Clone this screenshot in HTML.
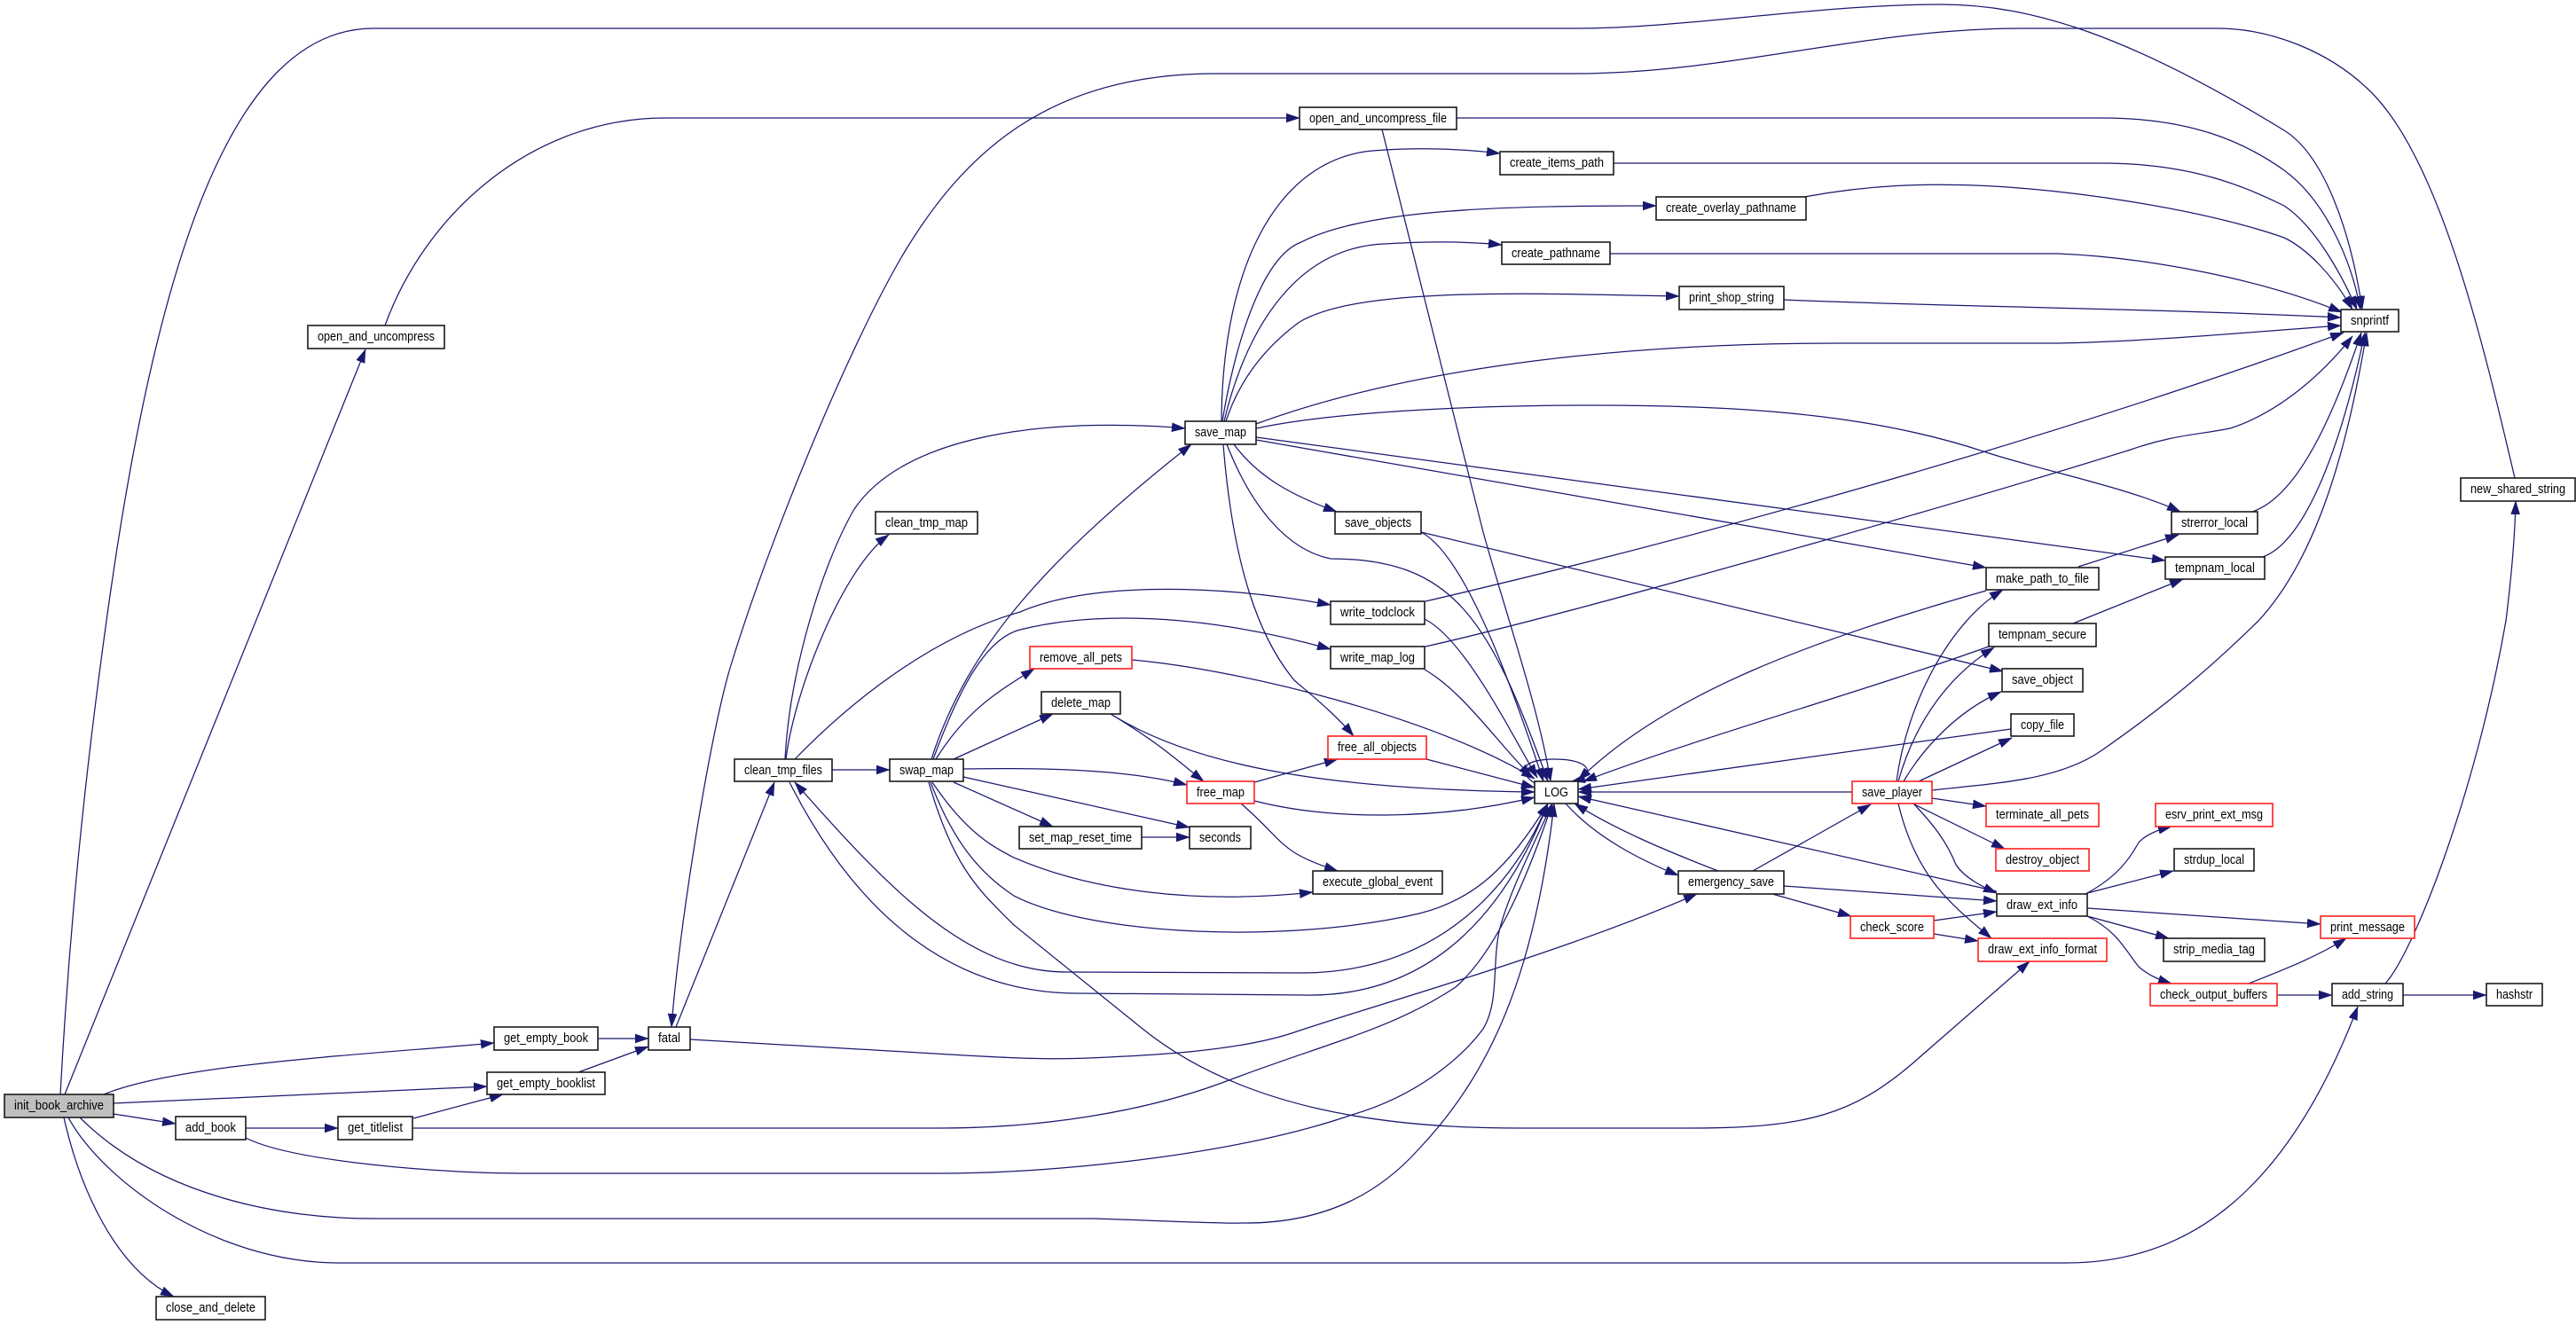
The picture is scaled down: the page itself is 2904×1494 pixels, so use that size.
<!DOCTYPE html>
<html><head><meta charset="utf-8"><title>init_book_archive call graph</title>
<style>
html,body{margin:0;padding:0;background:#fff;width:2904px;height:1494px;overflow:hidden}
svg{display:block}
path{fill:none;stroke:#191970;stroke-width:1.25;marker-end:url(#a)}
path.n{marker-end:none}
marker path{fill:#191970;stroke:#191970;stroke-width:.5;marker-end:none}
rect{fill:#fff;stroke:#1a1a1a;stroke-width:1.6}
rect.r{stroke:#ff2020}
rect.g{fill:#bfbfbf}
text{font-family:"Liberation Sans",sans-serif;font-size:15px;fill:#000}
</style></head><body>
<svg xmlns="http://www.w3.org/2000/svg" width="2904" height="1494" viewBox="0 0 2904 1494">
<defs><marker id="a" markerUnits="userSpaceOnUse" markerWidth="16" markerHeight="14" refX="15" refY="6" orient="auto"><path d="M0 1L15 6L0 11Z"/></marker></defs>
<g>
<path d="M68 1234C78 1050 95 880 120 700C175 300 260 32 421 32L1775 32C1900 32 2050 5 2188 5C2290 5 2400 40 2575 147C2620 175 2650 260 2663 349"/>
<path d="M2835 539C2800 390 2750 175 2669 100C2625 58 2560 32 2500 32L2280 32C2100 32 1950 83 1775 83L1370 83C1180 83 1085 175 1018 287C960 385 870 600 824 750C800 828 765 1050 757 1158"/>
<path d="M762 1158L873 882"/>
<path d="M778 1172L968 1183C1080 1189 1160 1196 1227 1193C1300 1190 1400 1185 1462 1163C1560 1130 1760 1075 1913 1008"/>
<path d="M73 1234L412 394"/>
<path d="M434 367C480 240 600 133 750 133L1465 133"/>
<path d="M1558 146L1672 600C1700 700 1735 800 1748 881"/>
<path d="M1642 133L2370 133C2470 133 2530 160 2575 192C2620 225 2650 290 2661 349"/>
<path d="M1819 184L2370 184C2470 184 2530 210 2575 232C2610 255 2640 310 2657 349"/>
<path d="M2034 222C2110 208 2170 207 2226 209C2330 213 2480 235 2575 268C2600 280 2630 310 2652 349"/>
<path d="M1815 286L2320 286C2420 290 2550 315 2640 352"/>
<path d="M2011 338C2200 346 2400 347 2639 358"/>
<path d="M1416 478C1560 425 1780 387 2072 387L2320 387C2420 385 2530 375 2639 367"/>
<path d="M1607 678C1900 610 2300 500 2642 375"/>
<path d="M1607 729C1780 690 2200 570 2402 507C2450 490 2480 490 2514 483C2570 465 2620 420 2652 379"/>
<path d="M2539 577C2590 560 2630 470 2662 375"/>
<path d="M2551 628C2600 610 2640 500 2666 375"/>
<path d="M2178 891C2250 883 2320 880 2368 847C2450 790 2500 745 2546 700C2620 620 2650 480 2668 375"/>
<path d="M1377 475C1378 300 1440 180 1547 170C1600 166 1650 168 1691 173"/>
<path d="M1378 475C1390 400 1420 290 1467 273C1540 235 1700 232 1867 232"/>
<path d="M1380 475C1400 390 1450 280 1560 275C1610 272 1650 272 1693 276"/>
<path d="M1382 475C1400 420 1435 385 1465 363C1530 325 1700 330 1893 334"/>
<path d="M1416 483C1500 465 1650 457 1800 457C1980 457 2120 470 2239 510C2300 530 2400 550 2458 577"/>
<path d="M1416 493L2441 632"/>
<path d="M1416 496L2239 640"/>
<path d="M1383 501C1410 570 1450 620 1500 630C1640 630 1680 700 1745 881"/>
<path d="M1379 501C1390 640 1420 720 1459 767C1480 785 1505 805 1526 830"/>
<path d="M1391 501C1420 540 1460 560 1507 577"/>
<path d="M885 856C890 760 925 640 963 574C1020 490 1180 470 1336 483"/>
<path d="M886 856C895 780 950 640 1002 603"/>
<path d="M896 856C970 780 1060 715 1150 690C1220 660 1350 655 1500 682"/>
<path d="M1052 856C1080 780 1110 720 1150 710C1230 690 1350 690 1500 732"/>
<path d="M1050 856C1090 730 1180 630 1343 501"/>
<path d="M1055 856C1090 800 1125 780 1166 754"/>
<path d="M1075 856L1187 805"/>
<path d="M1086 867C1200 865 1280 870 1338 885"/>
<path d="M1086 876L1341 933"/>
<path d="M1075 882L1187 932"/>
<path d="M1287 944L1341 944"/>
<path d="M938 868L1003 868"/>
<path d="M1051 882C1090 940 1120 955 1143 967C1230 1005 1350 1020 1480 1006"/>
<path d="M1049 882C1075 950 1105 985 1143 1010C1230 1055 1450 1065 1600 1030C1660 1015 1700 980 1745 906"/>
<path d="M1047 882C1075 980 1105 1005 1143 1043L1288 1160C1400 1250 1560 1272 1709 1272L1907 1272C2040 1272 2090 1255 2155 1200L2288 1084"/>
<path d="M1745 906C1710 990 1630 1095 1470 1097L1202 1096C1090 1096 1000 1000 896 882"/>
<path d="M890 882C970 1040 1080 1120 1215 1120L1470 1122C1620 1125 1700 1020 1745 906"/>
<path d="M465 1272L1060 1272C1170 1272 1290 1255 1388 1217C1500 1175 1570 1160 1641 1113C1690 1070 1725 980 1750 906"/>
<path d="M277 1283C330 1310 500 1323 586 1323L1060 1323C1200 1323 1400 1300 1524 1257C1600 1235 1650 1190 1672 1160C1690 1130 1682 1090 1690 1050C1700 1010 1725 960 1750 906"/>
<path d="M90 1260C180 1350 320 1374 420 1374L1233 1374C1300 1376 1380 1380 1400 1379C1500 1380 1560 1340 1600 1295C1680 1210 1730 1100 1752 906"/>
<path d="M77 1260C115 1330 240 1424 383 1424L2330 1424C2470 1424 2580 1340 2658 1135"/>
<path d="M72 1260C90 1340 130 1430 196 1462"/>
<path d="M117 1234C200 1200 400 1190 557 1176"/>
<path d="M128 1244L549 1225"/>
<path d="M128 1256L198 1267"/>
<path d="M277 1272L381 1272"/>
<path d="M466 1261L567 1234"/>
<path d="M674 1171L731 1171"/>
<path d="M652 1209L731 1180"/>
<path d="M1602 600C1650 625 1700 760 1740 881"/>
<path d="M1606 698C1650 720 1700 820 1733 877"/>
<path d="M1606 755C1650 780 1690 840 1727 876"/>
<path d="M1276 744C1400 755 1620 810 1730 878"/>
<path d="M1608 856L1730 888"/>
<path d="M1252 805C1340 860 1480 890 1730 893"/>
<path d="M1414 903C1500 925 1620 925 1730 899"/>
<path d="M1414 882L1508 856"/>
<path d="M1399 906C1450 950 1440 960 1508 982"/>
<path d="M1252 805C1310 840 1330 860 1357 881"/>
<path d="M2239 666C2050 720 1880 780 1779 880"/>
<path d="M2242 729C2100 780 1920 830 1785 881"/>
<path d="M2267 822L1779 890"/>
<path d="M2088 893L1779 893"/>
<path d="M2251 1005L1779 898"/>
<path d="M1765 906C1800 945 1850 970 1892 987"/>
<path d="M1937 982C1880 960 1820 935 1775 906"/>
<path d="M1730 883C1710 870 1715 856 1753 856C1795 856 1800 875 1772 881"/>
<path d="M1976 982L2109 907"/>
<path d="M2011 999L2251 1016"/>
<path d="M1998 1008L2087 1033"/>
<path d="M2180 1038L2251 1028"/>
<path d="M2180 1053L2230 1061"/>
<path d="M2138 881C2150 790 2200 700 2258 665"/>
<path d="M2140 881C2160 810 2200 760 2248 730"/>
<path d="M2146 881C2170 840 2210 800 2256 780"/>
<path d="M2163 881L2268 832"/>
<path d="M2178 900L2239 909"/>
<path d="M2156 906L2260 957"/>
<path d="M2158 907C2180 930 2195 950 2205 975C2215 990 2235 1000 2251 1007"/>
<path d="M2140 906C2160 990 2200 1020 2245 1058"/>
<path d="M2351 1008C2385 990 2400 970 2411 950C2420 940 2435 935 2448 932"/>
<path d="M2353 1007L2450 982"/>
<path d="M2353 1024L2616 1042"/>
<path d="M2353 1033L2445 1058"/>
<path d="M2353 1033C2387 1050 2395 1070 2411 1090C2422 1100 2435 1105 2448 1109"/>
<path d="M2535 1109C2570 1095 2610 1080 2645 1058"/>
<path d="M2567 1122L2629 1122"/>
<path d="M2709 1122L2803 1122"/>
<path d="M2689 1109C2720 1075 2790 900 2825 700C2830 660 2835 610 2836 565"/>
<path d="M2337 703L2461 653"/>
<path d="M2343 639L2456 603"/>
<path d="M1602 600L2258 757"/>
</g>
<g>
<rect class="g" x="5" y="1234" width="123" height="26"/><text x="16" y="1251" textLength="101" lengthAdjust="spacingAndGlyphs">init_book_archive</text>
<rect x="347" y="367" width="154" height="26"/><text x="358" y="384" textLength="132" lengthAdjust="spacingAndGlyphs">open_and_uncompress</text>
<rect x="557" y="1158" width="117" height="26"/><text x="568" y="1175" textLength="95" lengthAdjust="spacingAndGlyphs">get_empty_book</text>
<rect x="731" y="1158" width="47" height="26"/><text x="742" y="1175" textLength="25" lengthAdjust="spacingAndGlyphs">fatal</text>
<rect x="549" y="1209" width="133" height="25"/><text x="560" y="1226" textLength="111" lengthAdjust="spacingAndGlyphs">get_empty_booklist</text>
<rect x="198" y="1259" width="79" height="26"/><text x="209" y="1276" textLength="57" lengthAdjust="spacingAndGlyphs">add_book</text>
<rect x="381" y="1259" width="84" height="26"/><text x="392" y="1276" textLength="62" lengthAdjust="spacingAndGlyphs">get_titlelist</text>
<rect x="176" y="1462" width="123" height="26"/><text x="187" y="1479" textLength="101" lengthAdjust="spacingAndGlyphs">close_and_delete</text>
<rect x="828" y="856" width="110" height="25"/><text x="839" y="873" textLength="88" lengthAdjust="spacingAndGlyphs">clean_tmp_files</text>
<rect x="1003" y="856" width="83" height="25"/><text x="1014" y="873" textLength="61" lengthAdjust="spacingAndGlyphs">swap_map</text>
<rect x="987" y="577" width="115" height="25"/><text x="998" y="594" textLength="93" lengthAdjust="spacingAndGlyphs">clean_tmp_map</text>
<rect x="1336" y="475" width="80" height="26"/><text x="1347" y="492" textLength="58" lengthAdjust="spacingAndGlyphs">save_map</text>
<rect x="1465" y="121" width="177" height="25"/><text x="1476" y="138" textLength="155" lengthAdjust="spacingAndGlyphs">open_and_uncompress_file</text>
<rect x="1691" y="171" width="128" height="26"/><text x="1702" y="188" textLength="106" lengthAdjust="spacingAndGlyphs">create_items_path</text>
<rect x="1867" y="222" width="169" height="26"/><text x="1878" y="239" textLength="147" lengthAdjust="spacingAndGlyphs">create_overlay_pathname</text>
<rect x="1693" y="273" width="122" height="25"/><text x="1704" y="290" textLength="100" lengthAdjust="spacingAndGlyphs">create_pathname</text>
<rect x="1893" y="323" width="118" height="26"/><text x="1904" y="340" textLength="96" lengthAdjust="spacingAndGlyphs">print_shop_string</text>
<rect x="1505" y="577" width="97" height="25"/><text x="1516" y="594" textLength="75" lengthAdjust="spacingAndGlyphs">save_objects</text>
<rect x="1500" y="678" width="106" height="26"/><text x="1511" y="695" textLength="84" lengthAdjust="spacingAndGlyphs">write_todclock</text>
<rect x="1500" y="729" width="106" height="25"/><text x="1511" y="746" textLength="84" lengthAdjust="spacingAndGlyphs">write_map_log</text>
<rect class="r" x="1161" y="729" width="115" height="25"/><text x="1172" y="746" textLength="93" lengthAdjust="spacingAndGlyphs">remove_all_pets</text>
<rect x="1174" y="780" width="89" height="25"/><text x="1185" y="797" textLength="67" lengthAdjust="spacingAndGlyphs">delete_map</text>
<rect class="r" x="1497" y="830" width="111" height="26"/><text x="1508" y="847" textLength="89" lengthAdjust="spacingAndGlyphs">free_all_objects</text>
<rect class="r" x="1338" y="881" width="76" height="25"/><text x="1349" y="898" textLength="54" lengthAdjust="spacingAndGlyphs">free_map</text>
<rect x="1149" y="932" width="138" height="25"/><text x="1160" y="949" textLength="116" lengthAdjust="spacingAndGlyphs">set_map_reset_time</text>
<rect x="1341" y="932" width="69" height="25"/><text x="1352" y="949" textLength="47" lengthAdjust="spacingAndGlyphs">seconds</text>
<rect x="1480" y="982" width="146" height="26"/><text x="1491" y="999" textLength="124" lengthAdjust="spacingAndGlyphs">execute_global_event</text>
<rect x="1730" y="881" width="49" height="25"/><text x="1741" y="898" textLength="27" lengthAdjust="spacingAndGlyphs">LOG</text>
<rect x="1892" y="982" width="119" height="26"/><text x="1903" y="999" textLength="97" lengthAdjust="spacingAndGlyphs">emergency_save</text>
<rect class="r" x="2088" y="881" width="90" height="25"/><text x="2099" y="898" textLength="68" lengthAdjust="spacingAndGlyphs">save_player</text>
<rect x="2239" y="640" width="127" height="25"/><text x="2250" y="657" textLength="105" lengthAdjust="spacingAndGlyphs">make_path_to_file</text>
<rect x="2242" y="703" width="121" height="26"/><text x="2253" y="720" textLength="99" lengthAdjust="spacingAndGlyphs">tempnam_secure</text>
<rect x="2257" y="754" width="91" height="26"/><text x="2268" y="771" textLength="69" lengthAdjust="spacingAndGlyphs">save_object</text>
<rect x="2267" y="805" width="71" height="25"/><text x="2278" y="822" textLength="49" lengthAdjust="spacingAndGlyphs">copy_file</text>
<rect class="r" x="2239" y="906" width="127" height="26"/><text x="2250" y="923" textLength="105" lengthAdjust="spacingAndGlyphs">terminate_all_pets</text>
<rect class="r" x="2430" y="906" width="132" height="26"/><text x="2441" y="923" textLength="110" lengthAdjust="spacingAndGlyphs">esrv_print_ext_msg</text>
<rect class="r" x="2250" y="957" width="105" height="25"/><text x="2261" y="974" textLength="83" lengthAdjust="spacingAndGlyphs">destroy_object</text>
<rect x="2451" y="957" width="90" height="25"/><text x="2462" y="974" textLength="68" lengthAdjust="spacingAndGlyphs">strdup_local</text>
<rect x="2251" y="1008" width="102" height="25"/><text x="2262" y="1025" textLength="80" lengthAdjust="spacingAndGlyphs">draw_ext_info</text>
<rect class="r" x="2086" y="1033" width="94" height="25"/><text x="2097" y="1050" textLength="72" lengthAdjust="spacingAndGlyphs">check_score</text>
<rect class="r" x="2230" y="1058" width="145" height="26"/><text x="2241" y="1075" textLength="123" lengthAdjust="spacingAndGlyphs">draw_ext_info_format</text>
<rect class="r" x="2616" y="1033" width="106" height="25"/><text x="2627" y="1050" textLength="84" lengthAdjust="spacingAndGlyphs">print_message</text>
<rect x="2439" y="1058" width="114" height="26"/><text x="2450" y="1075" textLength="92" lengthAdjust="spacingAndGlyphs">strip_media_tag</text>
<rect class="r" x="2424" y="1109" width="143" height="25"/><text x="2435" y="1126" textLength="121" lengthAdjust="spacingAndGlyphs">check_output_buffers</text>
<rect x="2629" y="1109" width="80" height="25"/><text x="2640" y="1126" textLength="58" lengthAdjust="spacingAndGlyphs">add_string</text>
<rect x="2803" y="1109" width="63" height="25"/><text x="2814" y="1126" textLength="41" lengthAdjust="spacingAndGlyphs">hashstr</text>
<rect x="2639" y="349" width="65" height="25"/><text x="2650" y="366" textLength="43" lengthAdjust="spacingAndGlyphs">snprintf</text>
<rect x="2774" y="539" width="129" height="26"/><text x="2785" y="556" textLength="107" lengthAdjust="spacingAndGlyphs">new_shared_string</text>
<rect x="2448" y="577" width="97" height="25"/><text x="2459" y="594" textLength="75" lengthAdjust="spacingAndGlyphs">strerror_local</text>
<rect x="2441" y="628" width="112" height="25"/><text x="2452" y="645" textLength="90" lengthAdjust="spacingAndGlyphs">tempnam_local</text>
</g>
</svg>
</body></html>
